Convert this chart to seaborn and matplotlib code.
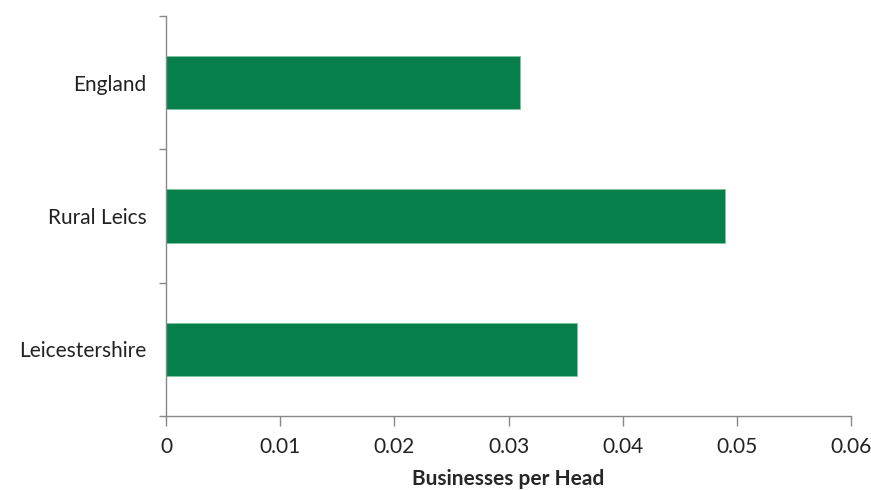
import matplotlib
matplotlib.use("Agg")
import matplotlib.pyplot as plt
import seaborn as sns
import pandas as pd

categories = ["England", "Rural Leics", "Leicestershire"]
values = [0.031, 0.049, 0.036]
xticks = [0, 0.01, 0.02, 0.03, 0.04, 0.05, 0.06]
xticklabels = ["0", "0.01", "0.02", "0.03", "0.04", "0.05", "0.06"]

sns.set_style("white")
plt.rcParams["font.family"] = ["Lato", "DejaVu Sans"]

df = pd.DataFrame({"cat": categories, "val": values})
fig = plt.figure(figsize=(8.71, 4.9), dpi=100)
ax = fig.add_axes([166/871, (490-416)/490, (851-166)/871, 400/490])
sns.barplot(data=df, x="val", y="cat", orient="h", color="#077F4A",
            saturation=1, width=0.4, edgecolor="#7fc4a0", linewidth=0.6, ax=ax)

ax.set_xlim(0, 0.06)
ax.set_ylim(2.5, -0.5)
ax.set_xticks(xticks)
ax.set_xticklabels(xticklabels, fontsize=15, color="#222222")
ax.set_yticks(range(len(categories)))
ax.set_yticklabels(categories, fontsize=15, color="#222222")
ax.set_yticks([-0.5, 0.5, 1.5, 2.5], minor=True)
ax.tick_params(bottom=True, left=True, which="both")
ax.tick_params(axis="y", which="major", length=0, pad=14)
ax.tick_params(axis="y", which="minor", length=5, width=1, color="#888888", direction="out")
ax.tick_params(axis="x", which="major", length=7, width=1, color="#888888", direction="out", pad=8)
for s in ["top", "right"]:
    ax.spines[s].set_visible(False)
for s in ["left", "bottom"]:
    ax.spines[s].set_color("#888888")
    ax.spines[s].set_linewidth(1)
ax.set_ylabel("")
ax.set_xlabel("Businesses per Head", fontsize=15, fontweight="bold", labelpad=9)

fig.savefig("out.png", dpi=100)
